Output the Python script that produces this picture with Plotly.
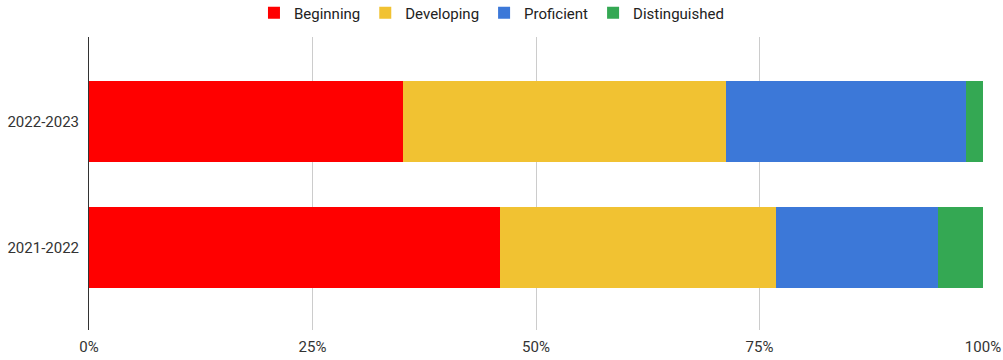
import plotly.graph_objects as go

years = ["2021-2022", "2022-2023"]
levels = ["Beginning", "Developing", "Proficient", "Distinguished"]
beginning = [46.0, 35.1]
developing = [30.9, 36.2]
proficient = [18.1, 26.8]
distinguished = [5.0, 1.9]
colors = ["#ff0000", "#f1c232", "#3c78d8", "#34a853"]
series = [beginning, developing, proficient, distinguished]

fig = go.Figure()
for name, vals, c in zip(levels, series, colors):
    fig.add_trace(go.Bar(
        y=years, x=vals, name=name, orientation="h",
        marker=dict(color=c, line=dict(width=0)),
        width=0.64,
        hovertemplate="%{y}: %{x}%<extra>" + name + "</extra>",
    ))

fig.update_layout(
    barmode="stack",
    width=1003, height=360,
    margin=dict(l=89, r=20, t=37, b=30, autoexpand=False),
    paper_bgcolor="white", plot_bgcolor="white",
    font=dict(family="Roboto, Arial, sans-serif", size=15, color="#222222"),
    legend=dict(orientation="h", x=0.49, xanchor="center", xref="container",
                y=1 - 13 / 360, yanchor="middle", yref="container",
                font=dict(size=15, color="#222222"),
                itemwidth=30, traceorder="normal"),
    xaxis=dict(range=[0, 100], tickvals=[0, 25, 50, 75, 100],
               ticktext=["0%", "25%", "50%", "75%", "100%"],
               showgrid=True, gridcolor="#cccccc", gridwidth=1,
               zeroline=False, showline=False, ticks="", automargin=False,
               ticklabelstandoff=6,
               tickfont=dict(size=15, color="#333333")),
    yaxis=dict(type="category", categoryorder="array", categoryarray=years,
               range=[-0.656, 1.673], showgrid=False, zeroline=False,
               showline=True, linecolor="#333333", linewidth=1, ticks="",
               automargin=False,
               ticklabelstandoff=6, tickfont=dict(size=15, color="#333333")),
)

fig.write_html("out.html")
